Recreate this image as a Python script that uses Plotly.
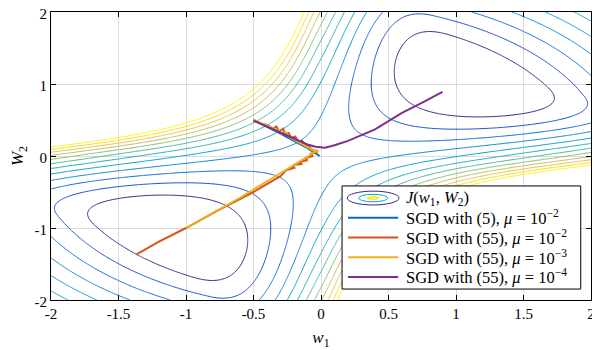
import numpy as np
import plotly.graph_objects as go

# ---- loss surface J(w1, W2): squared hinge on the product, steeper for
#      negative products, plus an l2 term ----
MARGIN_C = 1.6
NEG_EXTRA = 3.0
RHO = 0.45
w1_grid = np.linspace(-2, 2, 281)
W2_grid = np.linspace(-2, 2, 281)
WW1, WW2 = np.meshgrid(w1_grid, W2_grid)
P = WW1 * WW2
J = (np.maximum(0.0, MARGIN_C - P) ** 2 + NEG_EXTRA * np.minimum(0.0, P) ** 2
     + RHO * (WW1 ** 2 + WW2 ** 2))

LEVEL_START = 1.68
LEVEL_END = 5.42
LEVEL_STEP = 0.34

# ---- SGD trajectories ----
blue_w1 = [-0.5, -0.4, -0.3, -0.2, -0.1, -0.01]
blue_W2 = [0.5, 0.41, 0.31, 0.21, 0.11, 0.0]

red_w1 = [-0.5, -0.44, -0.4, -0.36, -0.33, -0.31, -0.28, -0.27, -0.24, -0.22, -0.19,
          -0.17, -0.14, -0.12, -0.09, -0.07, -0.04, -0.03, -0.08, -0.06, -0.12, -0.1,
          -0.16, -0.14, -0.2, -0.22, -0.19, -0.26, -0.3, -0.5, -0.75, -1.0, -1.2, -1.37]
red_W2 = [0.5, 0.45, 0.43, 0.38, 0.41, 0.34, 0.38, 0.3, 0.32, 0.25, 0.27,
          0.2, 0.21, 0.15, 0.14, 0.09, 0.07, 0.05, 0.03, 0.0, -0.03, -0.06,
          -0.08, -0.11, -0.12, -0.17, -0.16, -0.2, -0.28, -0.5, -0.74, -1.0, -1.19, -1.37]

orange_w1 = [-0.5, -0.4, -0.32, -0.29, -0.26, -0.24, -0.2, -0.15, -0.1, -0.05, -0.02,
             -0.03, -0.1, -0.2, -0.38, -0.6, -0.8, -1.0]
orange_W2 = [0.5, 0.42, 0.36, 0.31, 0.33, 0.27, 0.23, 0.18, 0.12, 0.07, 0.06,
             0.08, -0.01, -0.12, -0.33, -0.58, -0.79, -1.0]

purple_w1 = [-0.5, -0.4, -0.3, -0.2, -0.1, -0.04, 0.03, 0.1, 0.2, 0.4, 0.6, 0.75, 0.9]
purple_W2 = [0.49, 0.41, 0.33, 0.24, 0.16, 0.13, 0.115, 0.15, 0.21, 0.37, 0.6, 0.74, 0.89]

PARULA = [
    [0.0, "#352a87"], [0.125, "#0f5cdd"], [0.25, "#1481d6"], [0.375, "#06a4ca"],
    [0.5, "#2eb7a4"], [0.625, "#87bf77"], [0.75, "#d1bb59"], [0.875, "#fec832"],
    [1.0, "#f9fb0e"],
]

FONT = "Liberation Serif, Times New Roman, serif"

fig = go.Figure()
fig.add_trace(go.Contour(
    x=w1_grid, y=W2_grid, z=J,
    contours=dict(coloring="lines", start=LEVEL_START, end=LEVEL_END, size=LEVEL_STEP),
    zmin=LEVEL_START, zmax=LEVEL_END,
    colorscale=PARULA, showscale=False, line=dict(width=1),
    name="J(w1, W2)", hoverinfo="skip",
))

runs = [
    (blue_w1, blue_W2, "#0072BD", "SGD with (5), <i>μ</i> = 10<sup>−2</sup>"),
    (red_w1, red_W2, "#D95319", "SGD with (55), <i>μ</i> = 10<sup>−2</sup>"),
    (orange_w1, orange_W2, "#EDB120", "SGD with (55), <i>μ</i> = 10<sup>−3</sup>"),
    (purple_w1, purple_W2, "#7E2F8E", "SGD with (55), <i>μ</i> = 10<sup>−4</sup>"),
]
for xs, ys, col, label in runs:
    fig.add_trace(go.Scatter(x=xs, y=ys, mode="lines", line=dict(color=col, width=2),
                             name=label))

axis_style = dict(
    range=[-2, 2], showline=True, linecolor="black", linewidth=1, mirror="allticks",
    ticks="inside", ticklen=5, tickcolor="black", showgrid=True, gridcolor="#dcdcdc",
    zeroline=False, automargin=False, ticklabeloverflow="allow",
    tickfont=dict(family=FONT, size=15, color="black"),
)

# ---- hand-made legend box (paper coordinates) ----
box = dict(x0=0.539, x1=0.981, y0=0.038, y1=0.396)
row_top, row_gap = 0.354, 0.0685
sample_x0, sample_x1, text_x = 0.550, 0.643, 0.654
icon_x = (sample_x0 + sample_x1) / 2

shapes = [dict(type="rect", xref="paper", yref="paper", **box, layer="above",
               fillcolor="white", line=dict(color="black", width=1))]
for rx, ry, col, lw in [(0.048, 0.024, "#352a87", 1), (0.027, 0.013, "#06a4ca", 1),
                        (0.010, 0.004, "#f9e80e", 1.5)]:
    shapes.append(dict(type="circle", xref="paper", yref="paper", layer="above",
                       x0=icon_x - rx, x1=icon_x + rx, y0=row_top - ry, y1=row_top + ry,
                       line=dict(color=col, width=lw)))

annotations = [dict(text="<i>J</i>(<i>w</i><sub>1</sub>, <i>W</i><sub>2</sub>)",
                    x=text_x, y=row_top)]
for i, (_, _, col, label) in enumerate(runs, start=1):
    y = row_top - i * row_gap
    shapes.append(dict(type="line", xref="paper", yref="paper", layer="above",
                       x0=sample_x0, x1=sample_x1, y0=y, y1=y,
                       line=dict(color=col, width=2)))
    annotations.append(dict(text=label, x=text_x, y=y))
for a in annotations:
    a.update(xref="paper", yref="paper", xanchor="left", yanchor="middle",
             showarrow=False, font=dict(family=FONT, size=16.5, color="black"))

# the page keeps an 8px body margin, so the figure is 8px smaller than the window
fig.update_layout(
    width=592, height=342,
    margin=dict(l=43, r=9, t=4, b=50),
    plot_bgcolor="white", paper_bgcolor="white",
    font=dict(family=FONT, color="black"),
    showlegend=False,
    xaxis=dict(**axis_style, tickvals=[-2, -1.5, -1, -0.5, 0, 0.5, 1, 1.5, 2],
               ticktext=["-2", "-1.5", "-1", "-0.5", "0", "0.5", "1", "1.5", "2"],
               title=dict(text="<i>w</i><sub>1</sub>", font=dict(size=17), standoff=10)),
    yaxis=dict(**axis_style, tickvals=[-2, -1, 0, 1, 2],
               ticktext=["-2", "-1", "0", "1", "2"], ticklabelshift=2,
               title=dict(text="<i>W</i><sub>2</sub>", font=dict(size=17), standoff=18)),
    shapes=shapes,
    annotations=annotations,
)

fig.write_html("out.html")
